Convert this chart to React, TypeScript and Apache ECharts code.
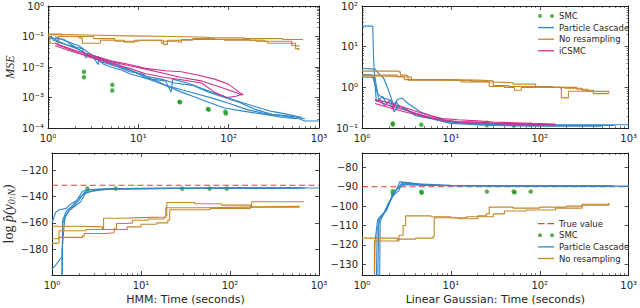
import React, { useEffect, useRef } from 'react';
import * as echarts from 'echarts';

// ---------- data ----------
type P = [number, number];

// HMM: MSE
const hmmPC1: P[] = [[1.05,0.1],[1.3,0.07],[1.7,0.05],[2.1,0.04],[2.5,0.03],[3,0.022],[3.5,0.018],[4.2,0.012],[5,0.01],[6.5,0.008],[8,0.006],[10,0.005],[13,0.004],[17,0.003],[22,0.0022],[30,0.0015],[40,0.0011],[60,0.0007],[90,0.00045],[150,0.00035],[250,0.00028],[400,0.00022],[600,0.0002],[700,0.00017],[1000,0.00017]];
const hmmPC2: P[] = [[1.1,0.08],[1.4,0.06],[1.8,0.05],[2.3,0.035],[2.7,0.025],[3.2,0.02],[3.6,0.012],[3.65,0.022],[3.8,0.015],[4.5,0.013],[6,0.01],[8,0.007],[11,0.006],[14,0.004],[20,0.0035],[23,0.0015],[24,0.004],[35,0.003],[50,0.002],[80,0.0012],[120,0.0008],[200,0.0005],[300,0.00035],[450,0.00028],[650,0.00022]];
const hmmPC3: P[] = [[1.05,0.09],[1.5,0.08],[2,0.045],[2.4,0.04],[2.6,0.02],[3,0.025],[4,0.018],[5,0.012],[7,0.009],[9,0.007],[12,0.0045],[16,0.0035],[20,0.0025],[30,0.0018],[45,0.0013],[70,0.0009],[100,0.00065],[160,0.0004],[250,0.0003],[400,0.00025],[560,0.0002]];
const hmmPC4: P[] = [[1.2,0.1],[1.6,0.07],[2.2,0.05],[2.8,0.03],[3.4,0.02],[4.5,0.015],[6,0.012],[8,0.008],[12,0.005],[18,0.004],[25,0.003],[40,0.0025],[60,0.0015],[90,0.001],[130,0.0007],[200,0.0004],[300,0.00028],[500,0.00024],[700,0.0002]];
const hmmNR1: P[] = [[1,0.115],[1.6,0.11],[3.5,0.105],[8,0.1],[25,0.095],[60,0.09],[150,0.085],[400,0.08],[660,0.075]];
const hmmNR2: P[] = [[1,0.1],[1.05,0.06],[1.3,0.1],[2.2,0.09],[2.4,0.06],[3.8,0.075],[7,0.065],[9,0.075],[18,0.075],[19,0.055],[21,0.075],[28,0.065],[30,0.08],[90,0.075],[200,0.07],[270,0.06],[550,0.04],[600,0.035]];
const hmmNR3: P[] = [[1,0.12],[1.4,0.1],[2.3,0.1],[3.2,0.085],[5,0.085],[5.5,0.07],[10,0.075],[18,0.06],[19,0.07],[27,0.075],[40,0.085],[70,0.08],[170,0.075],[250,0.07],[500,0.05],[600,0.045]];
const hmmIC1: P[] = [[1.2,0.06],[2,0.035],[3,0.025],[5,0.016],[8,0.012],[12,0.009],[20,0.0075],[30,0.007],[45,0.0055],[70,0.004],[100,0.0027],[145,0.0012]];
const hmmIC2: P[] = [[1.2,0.05],[2,0.03],[3,0.022],[5,0.015],[8,0.011],[12,0.0085],[20,0.006],[30,0.0045],[50,0.0035],[80,0.0022],[110,0.0016],[140,0.0012]];
const hmmIC3: P[] = [[1.25,0.055],[2,0.032],[3,0.02],[5,0.013],[8,0.009],[12,0.006],[20,0.0045],[30,0.0038],[50,0.003],[70,0.0015],[95,0.001],[120,0.0011],[145,0.0013]];
const hmmSMC: P[] = [[2.5,0.007],[2.5,0.0046],[5.15,0.0026],[5.15,0.0017],[28.5,0.00072],[29,0.0007],[59,0.00042],[60,0.0004],[92,0.00034],[93,0.0003]];

// Linear Gaussian: MSE
const lgPC1: P[] = [[1,32],[1.32,32],[1.35,5],[1.4,1.2],[1.45,0.45],[1.6,0.5],[1.8,0.35],[2,0.45],[2.2,0.3],[2.4,0.45],[2.6,0.35],[3,0.3],[4,0.22],[5,0.2],[7,0.16],[10,0.14],[20,0.13],[50,0.12],[100,0.12],[1000,0.12]];
const lgPC2: P[] = [[1,2.9],[1.4,2.8],[1.6,2],[1.75,1.7],[1.95,0.95],[2.1,0.6],[2.3,0.33],[2.5,0.5],[2.8,0.55],[3.3,0.4],[4.5,0.25],[6,0.2],[9,0.15],[15,0.13],[40,0.12],[150,0.115],[600,0.115]];
const lgPC3: P[] = [[1,2.1],[1.3,2.0],[1.45,0.9],[1.55,0.5],[1.7,0.6],[1.9,0.4],[2.1,0.5],[2.3,0.25],[2.6,0.35],[3.2,0.28],[4,0.2],[6,0.17],[10,0.13],[30,0.115],[100,0.11],[500,0.11]];
const lgPC4: P[] = [[1,1.8],[1.4,1.75],[1.5,0.7],[1.7,0.55],[2,0.5],[2.3,0.38],[2.7,0.3],[3.5,0.25],[5,0.19],[8,0.15],[20,0.12],[80,0.115],[700,0.115]];
const lgNR1: P[] = [[1,2.5],[2.6,2.4],[2.7,2.0],[3.2,1.9],[3.3,1.5],[10,1.45],[15,1.5],[17,1.4],[25,1.35],[27,1.05],[40,1.0],[52,0.85],[62,1.0],[100,1.0],[190,0.95],[300,0.85],[400,0.8],[600,0.75]];
const lgNR2: P[] = [[1,2.0],[2.3,2.0],[2.5,1.8],[3.5,1.8],[3.6,1.55],[8,1.5],[20,1.45],[30,1.1],[45,1.05],[100,1.0],[170,0.95],[175,0.55],[200,0.55],[210,0.8],[300,0.78],[600,0.75]];
const lgNR3: P[] = [[1,1.9],[1.3,1.85],[2.8,1.8],[3,1.55],[7,1.5],[13,1.35],[30,1.3],[50,1.2],[90,1.05],[140,1.0],[260,0.9],[350,0.8],[400,0.7],[600,0.68]];
const lgIC1: P[] = [[1.4,0.5],[2,0.42],[3,0.32],[5,0.22],[8,0.17],[12,0.16],[20,0.15],[30,0.14],[50,0.135],[80,0.13],[150,0.125]];
const lgIC2: P[] = [[1.4,0.4],[2,0.32],[3,0.25],[5,0.19],[8,0.16],[12,0.145],[20,0.14],[30,0.13],[50,0.13],[80,0.125],[150,0.12]];
const lgIC3: P[] = [[1.4,0.48],[2,0.36],[3,0.28],[5,0.2],[8,0.155],[12,0.14],[20,0.135],[35,0.13],[60,0.12],[100,0.12],[150,0.12]];
const lgSMC: P[] = [[2.22,0.13],[2.22,0.122],[4.65,0.12],[25.4,0.135],[25.4,0.117],[51,0.116],[52,0.12],[79,0.12]];

// HMM: log marginal likelihood
const hmmTrue = -131.5;
const hmmLPC1: P[] = [[1,-195],[1.1,-192],[1.25,-187],[1.3,-186],[1.32,-160],[1.5,-152],[1.7,-148],[2,-143],[2.3,-137],[2.6,-135],[3.5,-134.5],[6,-134],[20,-133.8],[100,-133.6],[1000,-133.5]];
const hmmLPC2: P[] = [[1,-160],[1.1,-152],[1.2,-150],[1.45,-149],[1.6,-146],[1.9,-143],[2.2,-136],[2.5,-135],[3,-134.5],[5,-134],[30,-133.8],[200,-133.6],[700,-133.5]];
const hmmLPC3: P[] = [[1.3,-215],[1.32,-158],[1.45,-151],[1.7,-147],[2,-141],[2.3,-138],[2.8,-136],[3.5,-135],[5,-134.2],[10,-134],[50,-133.7],[600,-133.5]];
const hmmLPC4: P[] = [[1.28,-215],[1.3,-180],[1.4,-155],[1.6,-150],[2.1,-144],[2.4,-137],[3,-135.5],[4,-134.5],[8,-134],[40,-133.7],[650,-133.5]];
const hmmLNR1: P[] = [[1,-162.5],[2,-163],[3.7,-164.5],[3.8,-156.5],[6,-156],[10,-155.5],[19,-154.5],[19.5,-144.5],[40,-145.5],[80,-146.5],[170,-148],[175,-144],[400,-144],[680,-144]];
const hmmLNR2: P[] = [[1,-172],[1.15,-172],[1.2,-166],[2.3,-166],[2.4,-165],[5,-164],[5.3,-160.5],[7,-160],[8,-158],[12,-157],[18,-156],[19,-148.5],[50,-148],[150,-147.5],[600,-147]];
const hmmLNR3: P[] = [[1,-175.5],[1.15,-175],[1.2,-171],[2.2,-170],[2.3,-168],[4,-167.5],[5,-165],[7,-163],[10,-161],[15,-160],[20,-158],[21,-150],[60,-149],[170,-148],[600,-147]];
const hmmLSMC: P[] = [[2.5,-134],[5.2,-134],[29,-134],[59,-134],[92,-134]];

// Linear Gaussian: log marginal likelihood
const lgTrue = -90;
const lgLPC1: P[] = [[1.38,-140],[1.4,-118],[1.5,-107],[1.7,-105],[1.9,-101],[2.1,-97],[2.3,-93],[2.5,-90.5],[2.65,-87.5],[3.5,-88],[5,-89],[10,-89.5],[100,-89.7],[1000,-89.7]];
const lgLPC2: P[] = [[1.5,-140],[1.55,-106],[1.8,-103],[2,-99],[2.2,-95],[2.4,-92],[2.7,-89],[3.2,-88.5],[6,-89.2],[30,-89.6],[600,-89.7]];
const lgLPC3: P[] = [[1.58,-140],[1.6,-108],[1.75,-104],[2,-98],[2.3,-94],[2.6,-92],[2.8,-88],[4,-88.5],[10,-89.3],[100,-89.6],[700,-89.7]];
const lgLPC4: P[] = [[1.45,-140],[1.48,-112],[1.6,-106],[1.9,-102],[2.2,-94],[2.5,-91],[3,-89],[5,-89.3],[50,-89.6],[650,-89.7]];
const lgLNR1: P[] = [[1,-116.5],[2.5,-117.5],[2.6,-115],[2.9,-110],[3.1,-105],[6,-105.5],[10,-106],[15,-105.5],[20,-105],[25,-104],[27,-100.5],[50,-101],[100,-100.5],[200,-100],[300,-99],[600,-98.5]];
const lgLNR2: P[] = [[1.35,-140],[1.38,-118],[2.5,-118],[2.6,-117],[4,-116.5],[6.3,-115.5],[6.5,-106],[12,-106.5],[20,-105.5],[30,-104],[40,-102.5],[70,-102],[150,-101],[300,-99.5],[600,-98.5]];
const lgLSMC: P[] = [[2.22,-92.3],[2.22,-93.6],[4.65,-92.6],[4.7,-93.1],[25.4,-92.5],[51,-92.5],[52,-92.8],[79,-92.5]];

// tick labels
const hmmLogTicks = [-180, -160, -140, -120];
const lgLogTicks = [-130, -120, -110, -100, -90, -80];

// ---------- styling ----------
const BLUE = '#2f86c8';
const ORANGE = '#c4862b';
const MAG = '#d0308a';
const GREEN = '#259a25';
const RED = '#e8402f';
const AX = '#222';
const TXT = '#262626';
const TWO_DOTS = 'path://M0,2a2,2 0 1,0 4,0a2,2 0 1,0 -4,0zM12,2a2,2 0 1,0 4,0a2,2 0 1,0 -4,0z';
const LINE_ICON = 'path://M0,0H16V1.3H0Z';
const DASH_ICON = 'path://M0,0H6.5V1.3H0ZM9.5,0H16V1.3H9.5Z';

const SUP: Record<string, string> = { '0': '⁰', '1': '¹', '2': '²', '3': '³', '4': '⁴', '5': '⁵', '-': '⁻' };
const supFmt = (v: number) => '10' + String(Math.round(Math.log10(v))).split('').map((c) => SUP[c] || c).join('');
const linFmt = (v: number) => String(v).replace('-', '−');

function minorLogs(lo: number, hi: number) {
  const out: number[] = [];
  for (let d = lo; d < hi; d++) for (let k = 2; k <= 9; k++) out.push(d + Math.log10(k));
  return out;
}

const GRIDS = [
  { left: 48, top: 6, width: 271, height: 122 },
  { left: 362, top: 6, width: 271, height: 122 },
  { left: 48, top: 153, width: 271, height: 122 },
  { left: 362, top: 153, width: 271, height: 122 },
];

const labelStyle = { fontSize: 10, color: TXT, fontFamily: 'DejaVu Sans' };
const line = { show: true, onZero: false, lineStyle: { color: AX, width: 1 } };
const majorTick = { show: true, inside: true, length: 4, lineStyle: { color: AX, width: 0.8 } };

function xAxesFor(g: number, name?: string) {
  const base = { type: 'log', logBase: 10, min: 1, max: 1000, gridIndex: g, splitLine: { show: false } };
  return [
    {
      ...base, position: 'bottom', axisLine: line, axisTick: majorTick,
      axisLabel: { ...labelStyle, formatter: supFmt, margin: 5 },
      name, nameLocation: 'middle', nameGap: 19,
      nameTextStyle: { fontSize: 11, color: TXT, fontFamily: 'DejaVu Sans' },
    },
    { ...base, position: 'top', axisLine: line, axisTick: majorTick, axisLabel: { show: false } },
    {
      type: 'value', min: 0, max: 3, gridIndex: g, position: 'bottom', splitLine: { show: false },
      axisLine: { show: false, onZero: false },
      axisTick: { show: true, inside: true, length: 2, customValues: minorLogs(0, 3), lineStyle: { color: AX, width: 0.6 } },
      axisLabel: { show: false },
    },
    {
      type: 'value', min: 0, max: 3, gridIndex: g, position: 'top', splitLine: { show: false },
      axisLine: { show: false, onZero: false },
      axisTick: { show: true, inside: true, length: 2, customValues: minorLogs(0, 3), lineStyle: { color: AX, width: 0.6 } },
      axisLabel: { show: false },
    },
  ];
}

function yLogAxesFor(g: number, lo: number, hi: number, name?: string) {
  const base = { type: 'log', logBase: 10, min: Math.pow(10, lo), max: Math.pow(10, hi), gridIndex: g, splitLine: { show: false } };
  const minor = (pos: string) => ({
    type: 'value', min: lo, max: hi, gridIndex: g, position: pos, splitLine: { show: false },
    axisLine: { show: false, onZero: false },
    axisTick: { show: true, inside: true, length: 2, customValues: minorLogs(lo, hi), lineStyle: { color: AX, width: 0.6 } },
    axisLabel: { show: false },
  });
  return [
    {
      ...base, position: 'left', axisLine: line, axisTick: majorTick,
      axisLabel: { ...labelStyle, formatter: supFmt, margin: 4 },
      name, nameLocation: 'middle', nameGap: 32, nameRotate: 90,
      nameTextStyle: { fontSize: 12, color: TXT, fontFamily: 'Liberation Serif', fontStyle: 'italic' },
    },
    { ...base, position: 'right', axisLine: line, axisTick: majorTick, axisLabel: { show: false } },
    minor('left'),
    minor('right'),
  ];
}

function yLinAxesFor(g: number, lo: number, hi: number, ticks: number[], withName: boolean) {
  const base = { type: 'value', min: lo, max: hi, gridIndex: g, splitLine: { show: false } };
  return [
    {
      ...base, position: 'left', axisLine: line,
      axisTick: { ...majorTick, customValues: ticks },
      axisLabel: { ...labelStyle, formatter: linFmt, margin: 4, customValues: ticks },
      ...(withName
        ? {
            name: '{r|log }{i|p̂(y}{s|0:N}{i|)}', nameLocation: 'middle', nameGap: 36, nameRotate: 90,
            nameTextStyle: {
              color: TXT,
              rich: {
                r: { fontSize: 14, fontFamily: 'Liberation Serif', color: TXT },
                i: { fontSize: 14, fontFamily: 'Liberation Serif', fontStyle: 'italic', color: TXT },
                s: { fontSize: 10, fontFamily: 'Liberation Serif', fontStyle: 'italic', color: TXT, padding: [6, 0, 0, 0] },
              },
            },
          }
        : {}),
    },
    { ...base, position: 'right', axisLine: line, axisTick: { ...majorTick, customValues: ticks }, axisLabel: { show: false } },
  ];
}

const X_MAIN = [0, 4, 8, 12];
const Y_MAIN = [0, 4, 8, 10];

function lineSeries(name: string, g: number, data: P[], color: string, step?: string) {
  return {
    type: 'line', name, xAxisIndex: X_MAIN[g], yAxisIndex: Y_MAIN[g], data,
    symbol: 'none', showSymbol: false, step: step || false, clip: true,
    lineStyle: { color, width: 1.1 }, itemStyle: { color },
  };
}
function smcSeries(g: number, data: P[]) {
  return {
    type: 'scatter', name: 'SMC', xAxisIndex: X_MAIN[g], yAxisIndex: Y_MAIN[g], data,
    symbol: 'circle', symbolSize: 4.5, itemStyle: { color: GREEN },
  };
}
function trueSeries(g: number, v: number) {
  return {
    type: 'line', name: 'True value', xAxisIndex: X_MAIN[g], yAxisIndex: Y_MAIN[g],
    data: [[1, v], [1000, v]], symbol: 'none', showSymbol: false,
    lineStyle: { color: RED, width: 1.1, type: [6, 3.5] }, itemStyle: { color: RED },
  };
}

const legendCommon = {
  orient: 'vertical', left: 538, padding: 0, itemWidth: 16, itemHeight: 7, itemGap: 2.6,
  textStyle: { fontSize: 8.5, color: TXT, fontFamily: 'DejaVu Sans' },
  itemStyle: { borderWidth: 0 },
};

export default function App() {
  const ref = useRef<HTMLDivElement>(null);
  useEffect(() => {
    if (!ref.current) return;
    const chart = echarts.init(ref.current, undefined, { renderer: 'svg' });
    const option: any = {
      animation: false,
      backgroundColor: '#ffffff',
      textStyle: { fontFamily: 'DejaVu Sans' },
      grid: GRIDS,
      xAxis: [
        ...xAxesFor(0),
        ...xAxesFor(1),
        ...xAxesFor(2, 'HMM: Time (seconds)'),
        ...xAxesFor(3, 'Linear Gaussian: Time (seconds)'),
      ],
      yAxis: [
        ...yLogAxesFor(0, -4, 0, 'MSE'),
        ...yLogAxesFor(1, -1, 2),
        ...yLinAxesFor(2, -199.5, -107, hmmLogTicks, true),
        ...yLinAxesFor(3, -135.5, -72.6, lgLogTicks, false),
      ],
      legend: [
        {
          ...legendCommon, top: 11.5,
          data: [
            { name: 'SMC', icon: TWO_DOTS },
            { name: 'Particle Cascade', icon: LINE_ICON },
            { name: 'No resampling', icon: LINE_ICON },
            { name: 'iCSMC', icon: LINE_ICON },
          ],
        },
        {
          ...legendCommon, bottom: 45,
          data: [
            { name: 'True value', icon: DASH_ICON },
            { name: 'SMC', icon: TWO_DOTS },
            { name: 'Particle Cascade', icon: LINE_ICON },
            { name: 'No resampling', icon: LINE_ICON },
          ],
        },
      ],
      series: [
        // HMM MSE
        lineSeries('No resampling', 0, hmmNR1, ORANGE, 'end'),
        lineSeries('No resampling', 0, hmmNR2, ORANGE, 'end'),
        lineSeries('No resampling', 0, hmmNR3, ORANGE, 'end'),
        lineSeries('Particle Cascade', 0, hmmPC1, BLUE),
        lineSeries('Particle Cascade', 0, hmmPC2, BLUE),
        lineSeries('Particle Cascade', 0, hmmPC3, BLUE),
        lineSeries('Particle Cascade', 0, hmmPC4, BLUE),
        lineSeries('iCSMC', 0, hmmIC1, MAG),
        lineSeries('iCSMC', 0, hmmIC2, MAG),
        lineSeries('iCSMC', 0, hmmIC3, MAG),
        smcSeries(0, hmmSMC),
        // LG MSE
        lineSeries('Particle Cascade', 1, lgPC1, BLUE),
        lineSeries('Particle Cascade', 1, lgPC2, BLUE),
        lineSeries('Particle Cascade', 1, lgPC3, BLUE),
        lineSeries('Particle Cascade', 1, lgPC4, BLUE),
        lineSeries('No resampling', 1, lgNR1, ORANGE, 'end'),
        lineSeries('No resampling', 1, lgNR2, ORANGE, 'end'),
        lineSeries('No resampling', 1, lgNR3, ORANGE, 'end'),
        lineSeries('iCSMC', 1, lgIC1, MAG),
        lineSeries('iCSMC', 1, lgIC2, MAG),
        lineSeries('iCSMC', 1, lgIC3, MAG),
        smcSeries(1, lgSMC),
        // HMM log Z
        trueSeries(2, hmmTrue),
        lineSeries('Particle Cascade', 2, hmmLPC1, BLUE),
        lineSeries('Particle Cascade', 2, hmmLPC2, BLUE),
        lineSeries('Particle Cascade', 2, hmmLPC3, BLUE),
        lineSeries('Particle Cascade', 2, hmmLPC4, BLUE),
        lineSeries('No resampling', 2, hmmLNR1, ORANGE, 'end'),
        lineSeries('No resampling', 2, hmmLNR2, ORANGE, 'end'),
        lineSeries('No resampling', 2, hmmLNR3, ORANGE, 'end'),
        smcSeries(2, hmmLSMC),
        // LG log Z
        trueSeries(3, lgTrue),
        lineSeries('Particle Cascade', 3, lgLPC1, BLUE),
        lineSeries('Particle Cascade', 3, lgLPC2, BLUE),
        lineSeries('Particle Cascade', 3, lgLPC3, BLUE),
        lineSeries('Particle Cascade', 3, lgLPC4, BLUE),
        lineSeries('No resampling', 3, lgLNR1, ORANGE, 'end'),
        lineSeries('No resampling', 3, lgLNR2, ORANGE, 'end'),
        smcSeries(3, lgLSMC),
      ],
    };
    chart.setOption(option);
    return () => chart.dispose();
  }, []);
  return (
    <div
      ref={ref}
      style={{ position: 'absolute', left: 0, top: 0, width: 640, height: 308, background: '#fff' }}
    />
  );
}
